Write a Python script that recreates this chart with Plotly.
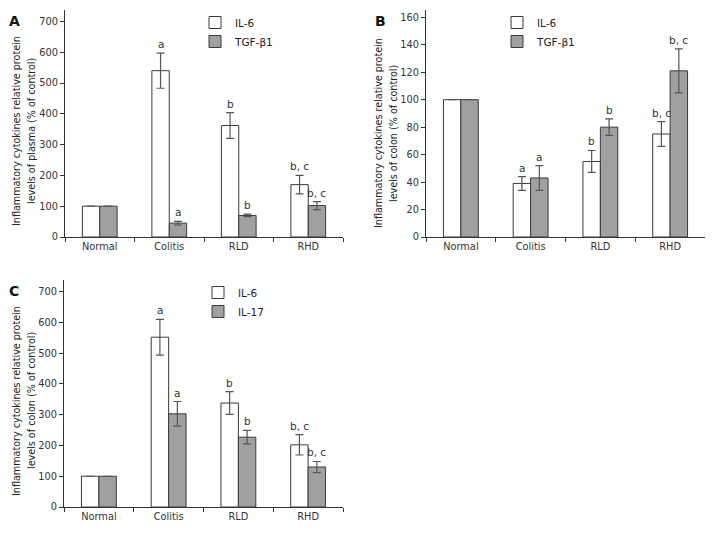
import plotly.graph_objects as go

categories = ["Normal", "Colitis", "RLD", "RHD"]

# Panel A (plasma)
a_il6 = [100, 540, 362, 170]
a_il6_err = [0, 57, 42, 30]
a_tgf = [100, 45, 70, 102]
a_tgf_err = [0, 6, 4, 13]
a_il6_lbl = ["", "a", "b", "b, c"]
a_tgf_lbl = ["", "a", "b", "b, c"]

# Panel B (colon)
b_il6 = [100, 39, 55, 75]
b_il6_err = [0, 5, 8, 9]
b_tgf = [100, 43, 80, 121]
b_tgf_err = [0, 9, 6, 16]
b_il6_lbl = ["", "a", "b", "b, c"]
b_tgf_lbl = ["", "a", "b", "b, c"]

# Panel C (colon)
c_il6 = [100, 552, 338, 202]
c_il6_err = [0, 58, 37, 33]
c_il17 = [100, 303, 227, 130]
c_il17_err = [0, 40, 22, 18]
c_il6_lbl = ["", "a", "b", "b, c"]
c_il17_lbl = ["", "a", "b", "b, c"]

FONT = "DejaVu Sans"
WHITE = "#ffffff"
GRAY = "#a0a0a0"
EDGE = "#3a3a3a"
ERRC = "#555555"

# page body has an 8px margin: figure sized to fit the 724x537 window
OFF = 8
W, H = 724 - 2 * OFF, 537 - 2 * OFF

def px(x):
    return (x - OFF) / W

def py(y):
    return 1 - (y - OFF) / H

def xd(a, b):
    return [px(a), px(b)]

def yd(top, bottom):
    return [py(bottom), py(top)]

fig = go.Figure()

def add_panel(xa, ya, leg, v1, e1, l1, n1, v2, e2, l2, n2):
    for vals, errs, name, col in ((v1, e1, n1, WHITE), (v2, e2, n2, GRAY)):
        fig.add_trace(go.Bar(
            x=categories, y=vals, name=name, xaxis=xa, yaxis=ya, legend=leg,
            marker=dict(color=col, line=dict(color=EDGE, width=1)),
            error_y=dict(type="data", array=errs, color=ERRC, thickness=1.2, width=4),
            showlegend=True,
        ))
    off = {0: -0.125, 1: 0.125}
    for k, (vals, errs, lbls) in enumerate(((v1, e1, l1), (v2, e2, l2))):
        for i, (v, e, t) in enumerate(zip(vals, errs, lbls)):
            if t:
                fig.add_annotation(
                    x=i + off[k], y=v + e, xref=xa, yref=ya, text=t, showarrow=False,
                    yanchor="bottom", yshift=1,
                    font=dict(family=FONT, size=10.5, color="#333"))

add_panel("x", "y", "legend", a_il6, a_il6_err, a_il6_lbl, "IL-6", a_tgf, a_tgf_err, a_tgf_lbl, "TGF-β1")
add_panel("x2", "y2", "legend2", b_il6, b_il6_err, b_il6_lbl, "IL-6", b_tgf, b_tgf_err, b_tgf_lbl, "TGF-β1")
add_panel("x3", "y3", "legend3", c_il6, c_il6_err, c_il6_lbl, "IL-6", c_il17, c_il17_err, c_il17_lbl, "IL-17")

tickfont = dict(family=FONT, size=9.8, color="#333")
common_x = dict(showline=True, linecolor="#333", linewidth=1, ticks="outside", tickson="boundaries",
                ticklen=4, tickcolor="#333", tickfont=tickfont, showgrid=False, zeroline=False,
                categoryorder="array", categoryarray=categories, automargin=False)
common_y = dict(showline=True, linecolor="#333", linewidth=1, ticks="outside", ticklen=4,
                tickcolor="#333", tickfont=tickfont, showgrid=False, zeroline=False, automargin=False)

legfont = dict(family=FONT, size=10.5, color="#222")
legcommon = dict(xanchor="left", yanchor="top", font=legfont, tracegroupgap=0,
                 itemwidth=30, bgcolor="rgba(0,0,0,0)")

fig.update_layout(
    width=W, height=H, margin=dict(l=0, r=0, t=0, b=0, autoexpand=False),
    paper_bgcolor="white", plot_bgcolor="white",
    barmode="group", bargap=0.5, bargroupgap=0,
    font=dict(family=FONT),
    xaxis=dict(domain=xd(65, 343), anchor="y", **common_x),
    yaxis=dict(domain=yd(10, 237), anchor="x", range=[0, 737], dtick=100, **common_y),
    xaxis2=dict(domain=xd(426, 705), anchor="y2", **common_x),
    yaxis2=dict(domain=yd(10, 237), anchor="x2", range=[0, 165.3], dtick=20, **common_y),
    xaxis3=dict(domain=xd(64, 343), anchor="y3", **common_x),
    yaxis3=dict(domain=yd(280, 507), anchor="x3", range=[0, 738], dtick=100, **common_y),
    legend=dict(x=px(195), y=py(8), **legcommon),
    legend2=dict(x=px(497), y=py(8), **legcommon),
    legend3=dict(x=px(198), y=py(278), **legcommon),
)

# y-axis titles (two lines each) as rotated annotations
ytitles = [
    (("Inflammatory cytokines relative protein", "levels of plasma (% of control)"), 16, 31, 131),
    (("Inflammatory cytokines relative protein", "levels of colon (% of control)"), 378, 393, 133),
    (("Inflammatory cytokines relative protein", "levels of colon (% of control)"), 16, 31, 401),
]
for (l1, l2), x1, x2, y in ytitles:
    for txt, x in ((l1, x1), (l2, x2)):
        fig.add_annotation(text=txt, x=px(x), y=py(y), xref="paper", yref="paper",
                           xanchor="center", yanchor="middle", textangle=-90, showarrow=False,
                           font=dict(family=FONT, size=9.6, color="#222"))

for txt, x, y in (("A", 7, 11), ("B", 373, 11), ("C", 7, 281)):
    fig.add_annotation(text="<b>%s</b>" % txt, x=px(x), y=py(y), xref="paper", yref="paper",
                       xanchor="left", yanchor="top", showarrow=False,
                       font=dict(family=FONT, size=14, color="#111"))

fig.write_html("out.html")
